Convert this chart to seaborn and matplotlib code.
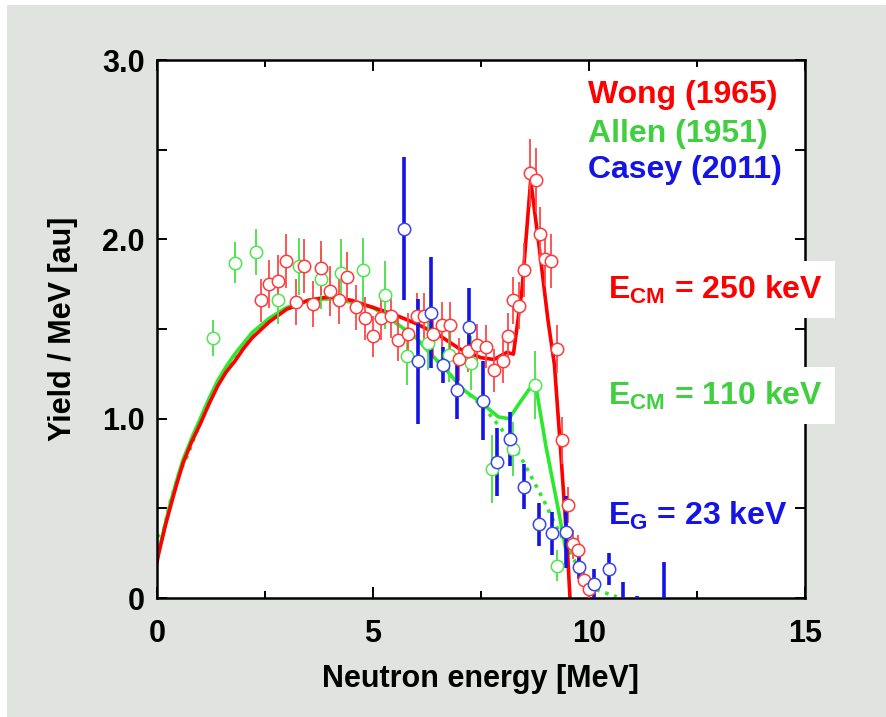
import matplotlib
matplotlib.use("Agg")
import matplotlib.pyplot as plt
import seaborn as sns
from matplotlib.patches import Rectangle
from matplotlib.ticker import MultipleLocator

# ---- data ----
wong_x = [2.41, 2.59, 2.81, 2.99, 3.21, 3.40, 3.60, 3.79, 4.00, 4.21, 4.40, 4.61, 4.81, 5.01, 5.19, 5.41, 5.59,
          5.82, 6.01, 6.19, 6.40, 6.59, 6.79, 7.00, 7.21, 7.41, 7.62, 7.81, 8.02, 8.13, 8.25, 8.37, 8.50,
          8.63, 8.77, 8.87, 8.98, 9.12, 9.25, 9.37, 9.51, 9.64, 9.74, 9.89, 9.99]
wong_y = [1.66, 1.75, 1.77, 1.88, 1.65, 1.85, 1.64, 1.84, 1.71, 1.66, 1.79, 1.62, 1.56, 1.46, 1.56, 1.57, 1.44,
          1.47, 1.57, 1.57, 1.47, 1.52, 1.52, 1.33, 1.38, 1.41, 1.40, 1.27, 1.32, 1.46, 1.66, 1.63, 1.83,
          2.37, 2.33, 2.03, 1.89, 1.88, 1.39, 0.88, 0.52, 0.30, 0.27, 0.10, 0.05]
wong_err = [0.12, 0.135, 0.14, 0.15, 0.13, 0.15, 0.13, 0.15, 0.14, 0.13, 0.14, 0.125, 0.12, 0.115, 0.12, 0.12, 0.12,
            0.12, 0.13, 0.13, 0.13, 0.13, 0.13, 0.12, 0.12, 0.12, 0.12, 0.12, 0.12, 0.13, 0.13, 0.13, 0.15,
            0.19, 0.18, 0.15, 0.15, 0.15, 0.135, 0.13, 0.10, 0.08, 0.08, 0.06, 0.05]

allen_x = [1.30, 1.81, 2.29, 2.79, 3.29, 3.79, 4.27, 4.78, 5.28, 5.78, 6.28, 6.76, 7.26, 7.76, 8.25, 8.75, 9.25]
allen_y = [1.45, 1.87, 1.93, 1.66, 1.85, 1.78, 1.81, 1.83, 1.69, 1.35, 1.42, 1.355, 1.31, 0.72, 0.83, 1.19, 0.18]
allen_err = [0.10, 0.115, 0.13, 0.13, 0.16, 0.17, 0.19, 0.18, 0.19, 0.16, 0.15, 0.15, 0.15, 0.19, 0.15, 0.19, 0.085]

casey_x = [5.72, 6.05, 6.34, 6.63, 6.94, 7.23, 7.55, 7.88, 8.18, 8.50, 8.84, 9.15, 9.47, 9.77, 10.12, 10.46,
           10.78, 11.10, 11.73]
casey_y = [2.06, 1.32, 1.59, 1.30, 1.16, 1.51, 1.10, 0.76, 0.885, 0.62, 0.41, 0.36, 0.37, 0.175, 0.08, 0.16,
           -0.06, -0.06, -0.06]
casey_err = [0.40, 0.35, 0.31, 0.10, 0.16, 0.22, 0.22, 0.19, 0.15, 0.125, 0.12, 0.12, 0.20, 0.07, 0.08, 0.09,
             0.15, 0.07, 0.26]

# model curves
red_fit_x = [0.0, 0.05, 0.1, 0.2, 0.3, 0.45, 0.6, 0.8, 1.0, 1.2, 1.4, 1.6, 1.8, 2.0, 2.2, 2.6, 3.0, 3.5, 4.0,
             4.5, 5.0, 5.5, 6.0, 6.5, 7.0, 7.5, 7.8, 8.1, 8.25, 8.45, 8.65, 8.85, 9.05, 9.2, 9.35, 9.5, 9.56]
red_fit_y = [0.20, 0.26, 0.31, 0.41, 0.50, 0.63, 0.75, 0.87, 0.97, 1.08, 1.18, 1.26, 1.32, 1.39, 1.45, 1.54,
             1.61, 1.66, 1.68, 1.66, 1.62, 1.58, 1.53, 1.47, 1.39, 1.34, 1.33, 1.37, 1.36, 1.72, 2.33, 1.95,
             1.55, 1.30, 0.80, 0.27, 0.0]

green_fit_x = [0.0, 0.1, 0.2, 0.3, 0.45, 0.6, 0.8, 1.0, 1.2, 1.4, 1.6, 1.8, 2.0, 2.2, 2.6, 3.0, 3.5, 4.0, 4.5,
               5.0, 5.5, 6.0, 6.3, 6.7, 7.1, 7.5, 7.9, 8.15, 8.4, 8.75, 9.0, 9.3, 9.5]
green_fit_y = [0.22, 0.32, 0.42, 0.52, 0.65, 0.77, 0.89, 1.00, 1.11, 1.21, 1.29, 1.36, 1.42, 1.48, 1.56, 1.62,
               1.66, 1.67, 1.65, 1.62, 1.54, 1.45, 1.37, 1.27, 1.16, 1.09, 1.01, 1.00, 1.09, 1.21, 0.85, 0.48,
               0.22]

green_dot_x = [0.0, 0.15, 0.3, 0.5, 0.7, 1.0, 1.4, 1.8, 2.2, 2.6, 3.0, 3.5, 4.0, 4.5, 5.0, 5.5, 6.0, 6.3, 6.7,
               7.1, 7.3, 7.63, 7.98, 8.48, 8.94, 9.17, 9.48, 9.79, 10.18, 10.64]
green_dot_y = [0.34, 0.375, 0.53, 0.69, 0.79, 0.98, 1.19, 1.35, 1.47, 1.55, 1.61, 1.65, 1.67, 1.65, 1.62, 1.54,
               1.45, 1.37, 1.27, 1.16, 1.12, 1.045, 0.94, 0.76, 0.55, 0.435, 0.29, 0.156, 0.045, 0.007]

RED = "#ff0000"
GREEN = "#2ee82e"
BLUE = "#1414e6"
GREEN_TXT = "#3fcf3f"

sns.set_theme(style="ticks")
plt.rcParams["font.family"] = ["Liberation Sans", "DejaVu Sans"]
plt.rcParams["font.weight"] = "bold"
plt.rcParams["mathtext.fontset"] = "custom"
plt.rcParams["mathtext.rm"] = "Liberation Sans:bold"
plt.rcParams["mathtext.bf"] = "Liberation Sans:bold"
plt.rcParams["mathtext.it"] = "Liberation Sans:bold"

fig = plt.figure(figsize=(8.86, 7.17), dpi=100)
fig.patch.set_facecolor("white")
fig.patches.append(Rectangle((7 / 886, 0), 1, 712 / 717, transform=fig.transFigure,
                             facecolor="#e0e3e0", edgecolor="none", zorder=-10))
ax = fig.add_axes([157 / 886, 119 / 717, 648 / 886, 538 / 717])
ax.set_facecolor("white")

# curves
sns.lineplot(x=green_dot_x, y=green_dot_y, ax=ax, color=GREEN, lw=2.6, linestyle=(0, (1, 1.6)),
             estimator=None, sort=False, zorder=2)
sns.lineplot(x=green_fit_x, y=green_fit_y, ax=ax, color=GREEN, lw=2.6, estimator=None, sort=False, zorder=2)
sns.lineplot(x=red_fit_x, y=red_fit_y, ax=ax, color=RED, lw=2.6, estimator=None, sort=False, zorder=2.5)

# error bars
ax.errorbar(allen_x, allen_y, yerr=allen_err, fmt="none", ecolor="#44e044", elinewidth=1.3, capsize=0, zorder=3)
ax.errorbar(wong_x, wong_y, yerr=wong_err, fmt="none", ecolor="#ff4848", elinewidth=1.3, capsize=0, zorder=3)
ax.errorbar(casey_x, casey_y, yerr=casey_err, fmt="none", ecolor=BLUE, elinewidth=2.6, capsize=0, zorder=3)

# markers
for xs, ys, col in [(allen_x, allen_y, "#4ce84c"), (wong_x, wong_y, "#ff3a3a"), (casey_x, casey_y, "#3a44ee")]:
    sns.scatterplot(x=xs, y=ys, ax=ax, marker="o", s=80, color="white", edgecolor=col,
                    linewidth=1.1, zorder=4)

ax.set_xlim(0, 15)
ax.set_ylim(0, 3)
ax.set_xticks([0, 5, 10, 15])
ax.set_xticklabels(["0", "5", "10", "15"])
ax.xaxis.set_minor_locator(MultipleLocator(2.5))
ax.set_yticks([0, 1, 2, 3])
ax.set_yticklabels(["0", "1.0", "2.0", "3.0"])
ax.yaxis.set_minor_locator(MultipleLocator(0.5))
ax.tick_params(axis="both", which="both", direction="in", top=True, right=True, width=1.4,
               colors="black", labelsize=22)
ax.tick_params(axis="x", which="major", length=8, pad=15)
ax.tick_params(axis="x", which="minor", length=5)
ax.tick_params(axis="y", which="both", length=7, pad=9)
for lab in ax.get_xticklabels() + ax.get_yticklabels():
    lab.set_fontweight("bold")
for sp in ax.spines.values():
    sp.set_linewidth(1.8)
    sp.set_color("black")

ax.set_xlabel("Neutron energy [MeV]", fontsize=22, fontweight="bold", color="black")
ax.set_ylabel("Yield / MeV [au]", fontsize=22, fontweight="bold", color="black")
ax.xaxis.set_label_coords(0.5, -0.122)
ax.yaxis.set_label_coords(-0.122, 0.5)

# data-set labels
ax.text(0.665, 0.920, "Wong (1965)", transform=ax.transAxes, color=RED, fontsize=23,
        fontweight="bold", va="baseline")
ax.text(0.665, 0.848, "Allen (1951)", transform=ax.transAxes, color=GREEN_TXT, fontsize=23,
        fontweight="bold", va="baseline")
ax.text(0.665, 0.781, "Casey (2011)", transform=ax.transAxes, color=BLUE, fontsize=23,
        fontweight="bold", va="baseline")

box = dict(facecolor="white", edgecolor="none", pad=9)
ax.text(0.696, 0.556, r"E$_\mathregular{CM}$ = 250 keV", transform=ax.transAxes, color=RED,
        fontsize=23, fontweight="bold", va="baseline", bbox=box)
ax.text(0.696, 0.359, r"E$_\mathregular{CM}$ = 110 keV", transform=ax.transAxes, color=GREEN_TXT,
        fontsize=23, fontweight="bold", va="baseline", bbox=box)
ax.text(0.696, 0.136, r"E$_\mathregular{G}$ = 23 keV", transform=ax.transAxes, color=BLUE,
        fontsize=23, fontweight="bold", va="baseline")

fig.savefig("out.png", dpi=100, facecolor=fig.get_facecolor())
